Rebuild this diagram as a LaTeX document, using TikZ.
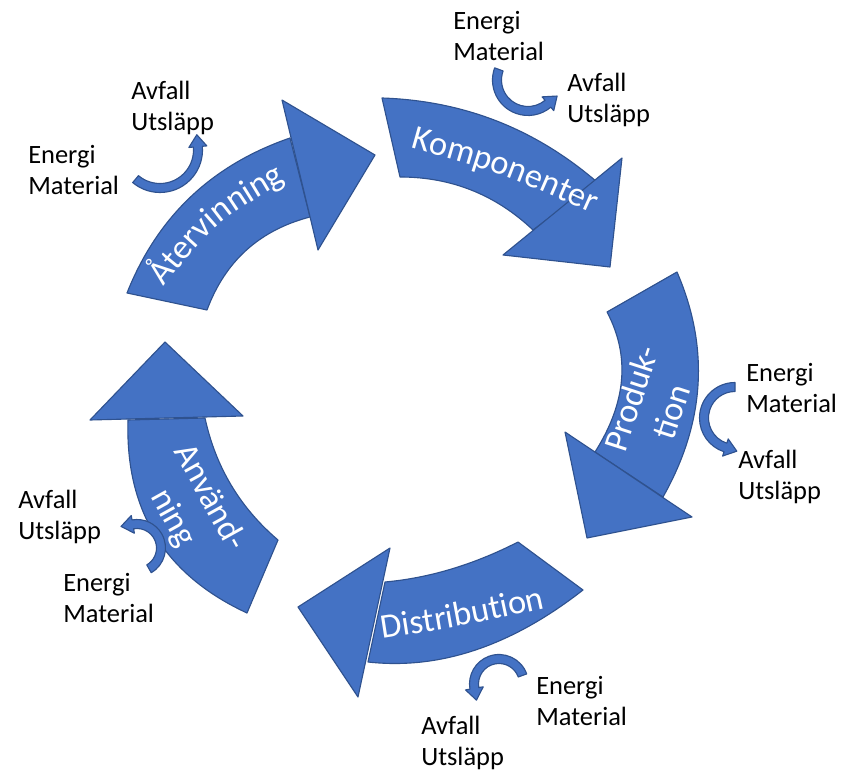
\documentclass[tikz,border=0pt]{standalone}
\usepackage{fontspec}
\setmainfont{Carlito}
\usetikzlibrary{calc, decorations.text}
\definecolor{cycleblue}{HTML}{4472C4}
\definecolor{cycleedge}{HTML}{2F528F}

\newcommand{\stagefont}{\fontsize{24.5pt}{30pt}\selectfont\color{white}}

% small bent arrow: centre, radius, tail angle, head angle
\newcommand{\loopflow}[4]{%
  \path[block] ($(#1)+({#3}:{#2+4.5})$)
    arc[start angle={#3}, end angle={#4}, radius={#2+4.5}]
    -- ($(#1)+({#4}:{#2+9})$)
    -- ($(#1)+({#4}:{#2})+({#4+90*sign((#4)-(#3))}:12)$)
    -- ($(#1)+({#4}:{#2-9})$)
    -- ($(#1)+({#4}:{#2-4.5})$)
    arc[start angle={#4}, end angle={#3}, radius={#2-4.5}]
    -- cycle;}

\begin{document}
\begin{tikzpicture}[x=0.025cm, y=-0.025cm]

        % 1. Page of the reference, measured in pixels (y grows downwards)
        \useasboundingbox (0,0) rectangle (842,774);

        \tikzset{
          block/.style={fill=cycleblue, draw=cycleedge, line width=0.8pt, line join=round},
          flowtext/.style={anchor=north west, inner sep=0pt, align=left, text=black,
            font=\fontsize{18.8pt}{22pt}\selectfont},
          stagetext/.style={inner sep=0pt, align=center, text=white,
            font=\fontsize{24.5pt}{30pt}\selectfont}
        }

        % 2. Corner points of the five big arrows
        % (to/ti: tail, oc/ic: bend of outer/inner edge, oj/ij: where the head starts,
        %  ho/hi: head corners, tp: tip)
        % Komponenter
        \coordinate (kom-to) at (382,98);
        \coordinate (kom-oc) at (504,102);
        \coordinate (kom-oj) at (597,182);
        \coordinate (kom-ho) at (622,158);
        \coordinate (kom-tp) at (610,267);
        \coordinate (kom-hi) at (503,255);
        \coordinate (kom-ij) at (533,230);
        \coordinate (kom-ic) at (477,177);
        \coordinate (kom-ti) at (400,177);
        % Produktion
        \coordinate (pro-to) at (677,272);
        \coordinate (pro-oc) at (726,385.5);
        \coordinate (pro-oj) at (663,497);
        \coordinate (pro-ho) at (692,517);
        \coordinate (pro-tp) at (587,538);
        \coordinate (pro-hi) at (565,432);
        \coordinate (pro-ij) at (595,452);
        \coordinate (pro-ic) at (642,378);
        \coordinate (pro-ti) at (607,312);
        % Distribution
        \coordinate (dis-to) at (583,590);
        \coordinate (dis-oc) at (475.5,674);
        \coordinate (dis-oj) at (368,662);
        \coordinate (dis-ho) at (358,697);
        \coordinate (dis-tp) at (298,607);
        \coordinate (dis-hi) at (390,548);
        \coordinate (dis-ij) at (385,582);
        \coordinate (dis-ic) at (451.5,576);
        \coordinate (dis-ti) at (518,542);
        % Användning
        \coordinate (anv-to) at (247,613);
        \coordinate (anv-oc) at (123.7,555.9);
        \coordinate (anv-oj) at (128,420);
        \coordinate (anv-ho) at (90,420);
        \coordinate (anv-tp) at (165,342);
        \coordinate (anv-hi) at (243,416);
        \coordinate (anv-ij) at (205,418);
        \coordinate (anv-ic) at (220.9,491.4);
        \coordinate (anv-ti) at (278,540);
        % Återvinning
        \coordinate (ater-to) at (127,293);
        \coordinate (ater-oc) at (172.5,178.5);
        \coordinate (ater-oj) at (290,138);
        \coordinate (ater-ho) at (282,100);
        \coordinate (ater-tp) at (375,155);
        \coordinate (ater-hi) at (318,250);
        \coordinate (ater-ij) at (310,217);
        \coordinate (ater-ic) at (234.3,236.7);
        \coordinate (ater-ti) at (207,310);

        % 3. Bodies first, heads on top (the head base shows as a seam)
        % each edge is a quadratic bend written as a cubic (2/3 rule)
        \foreach \s in {kom,pro,dis,anv,ater} {
          \path[block] (\s-to)
            .. controls ($(\s-to)!2/3!(\s-oc)$) and ($(\s-oj)!2/3!(\s-oc)$) .. (\s-oj)
            -- (\s-ij)
            .. controls ($(\s-ij)!2/3!(\s-ic)$) and ($(\s-ti)!2/3!(\s-ic)$) .. (\s-ti)
            -- cycle;
          \path[block] (\s-ho) -- (\s-tp) -- (\s-hi) -- cycle;
        }

        % 4. Stage names
        \path[decorate, decoration={text along path, text align=center,
            text={|\stagefont|Komponenter}}] (398,144) .. controls (502.3,173.2) .. (604,219);
        \node[stagetext, rotate=72] (produktion) at (651,405) {Produk-\\tion};
        \path[decorate, decoration={text along path, text align=center,
            text={|\stagefont|Distribution}}] (368,641) .. controls (463.3,626.3) .. (560,605);
        \node[stagetext, rotate=-61] (anvandning) at (191,508) {Använd-\\ning};
        \path[decorate, decoration={text along path, text align=center,
            text={|\stagefont|Återvinning}}] (155,298) .. controls (214.8,222.7) .. (298,174);

        % 5. Small bent arrows (in: energi, material; out: avfall, utsläpp)
        \loopflow{160,150}{38}{130}{-5}
        \loopflow{528,80}{31}{200}{50}
        \loopflow{735,418}{31}{270}{108}
        \loopflow{499,684}{25}{-20}{-190}
        \loopflow{137,548}{24}{60}{-100}

        % 6. Flow labels
        \node[flowtext] (ater-out) at (131,81)  {Avfall\\Utsläpp};
        \node[flowtext] (ater-in)  at (28,145)  {Energi\\Material};
        \node[flowtext] (kom-in)   at (453,11)  {Energi\\Material};
        \node[flowtext] (kom-out)  at (567,73)  {Avfall\\Utsläpp};
        \node[flowtext] (pro-in)   at (746,363) {Energi\\Material};
        \node[flowtext] (pro-out)  at (738,450) {Avfall\\Utsläpp};
        \node[flowtext] (dis-in)   at (536,676) {Energi\\Material};
        \node[flowtext] (dis-out)  at (421,716) {Avfall\\Utsläpp};
        \node[flowtext] (anv-out)  at (18,490)  {Avfall\\Utsläpp};
        \node[flowtext] (anv-in)   at (63,573)  {Energi\\Material};

\end{tikzpicture}
\end{document}
